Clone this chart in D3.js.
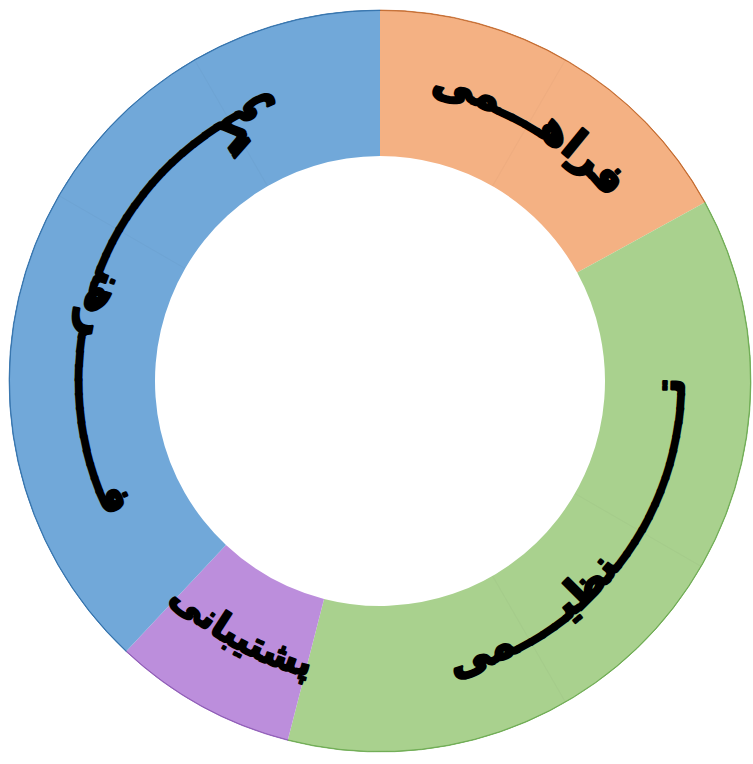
<!DOCTYPE html>
<html lang="fa">
  <head>
    <meta charset="UTF-8" />
    <title>Donut</title>
    <script src="https://d3js.org/d3.v7.min.js"></script>
    <style>
      html, body { margin: 0; padding: 0; background: #fff; }
      .label {
        font-family: "DejaVu Sans", sans-serif;
        font-weight: bold;
        font-size: 42px;
        fill: #000;
        stroke: #000;
        stroke-width: 2.6px;
        stroke-linejoin: round;
      }
      #lbl2 { font-size: 37px; stroke-width: 2px; }
    </style>
  </head>
  <body>
    <div id="chart"></div>
    <script>
      // data
      const categories = ["فراهمی", "تنظیمی", "پشتیبانی", "فرهنگی"];
      const labels = [
        "فراهـــمی",
        "تـــــــــــــنظیــــمی",
        "پشتیبانی",
        "فـــــــــــرهنـــــــــــــگی",
      ];
      const values = [17, 37, 8, 38];
      const colors = ["#F4B183", "#A9D18E", "#BC8EDC", "#71A8D9"];
      const edgeColors = ["#C0672A", "#6AA84F", "#8E5BB5", "#2F6EA8"];
      // faint dividers visible in the ring (degrees clockwise from top)
      const faintDividers = [30, 120, 150, 300, 330];

      const width = 753;
      const height = 764;
      const cx = 380;
      const cy = 381;
      const outerR = 371;
      const innerR = 225;

      const svg = d3
        .select("#chart")
        .append("svg")
        .attr("width", width)
        .attr("height", height);

      const g = svg.append("g").attr("transform", `translate(${cx},${cy})`);

      const pie = d3.pie().sort(null).value((d) => d.value);
      const data = categories.map((c, i) => ({
        name: c,
        label: labels[i],
        value: values[i],
        color: colors[i],
        edge: edgeColors[i],
      }));
      const slices = pie(data);

      const arc = d3.arc().innerRadius(innerR).outerRadius(outerR);

      g.selectAll("path.slice")
        .data(slices)
        .enter()
        .append("path")
        .attr("class", "slice")
        .attr("d", arc)
        .attr("fill", (d) => d.data.color);

      // darker rim on the outside edge
      const rim = d3.arc().innerRadius(outerR - 0.5).outerRadius(outerR);
      g.selectAll("path.rim")
        .data(slices)
        .enter()
        .append("path")
        .attr("class", "rim")
        .attr("d", rim)
        .attr("fill", (d) => d.data.edge)
        .attr("stroke", (d) => d.data.edge)
        .attr("stroke-width", 0.8)
        .attr("stroke-opacity", 0.8);

      // faint radial lines
      const rad = (a) => (a * Math.PI) / 180;
      g.selectAll("line.div")
        .data(faintDividers)
        .enter()
        .append("line")
        .attr("class", "div")
        .attr("x1", (a) => innerR * Math.sin(rad(a)))
        .attr("y1", (a) => -innerR * Math.cos(rad(a)))
        .attr("x2", (a) => outerR * Math.sin(rad(a)))
        .attr("y2", (a) => -outerR * Math.cos(rad(a)))
        .attr("stroke", "#000")
        .attr("stroke-opacity", 0.022)
        .attr("stroke-width", 1.2);

      // label paths: upper labels read clockwise (tops out),
      // the others read counter-clockwise (tops in)
      const defs = svg.append("defs");
      const pad = Math.PI / 3;
      slices.forEach((s, i) => {
        const mid = (s.startAngle + s.endAngle) / 2;
        const topSide = Math.cos(mid) > 0.5;
        const p = d3.path();
        if (topSide) {
          p.arc(0, 0, 292, s.startAngle - pad - Math.PI / 2, s.endAngle + pad - Math.PI / 2, false);
        } else {
          p.arc(0, 0, 304, s.endAngle + pad - Math.PI / 2, s.startAngle - pad - Math.PI / 2, true);
        }
        defs.append("path").attr("id", "lp" + i).attr("d", p.toString());
      });

      g.selectAll("text.label")
        .data(slices)
        .enter()
        .append("text")
        .attr("class", "label")
        .attr("id", (d, i) => "lbl" + i)
        .append("textPath")
        .attr("href", (d, i) => "#lp" + i)
        .attr("startOffset", "50%")
        .attr("text-anchor", "middle")
        .text((d) => d.data.label);
    </script>
  </body>
</html>
